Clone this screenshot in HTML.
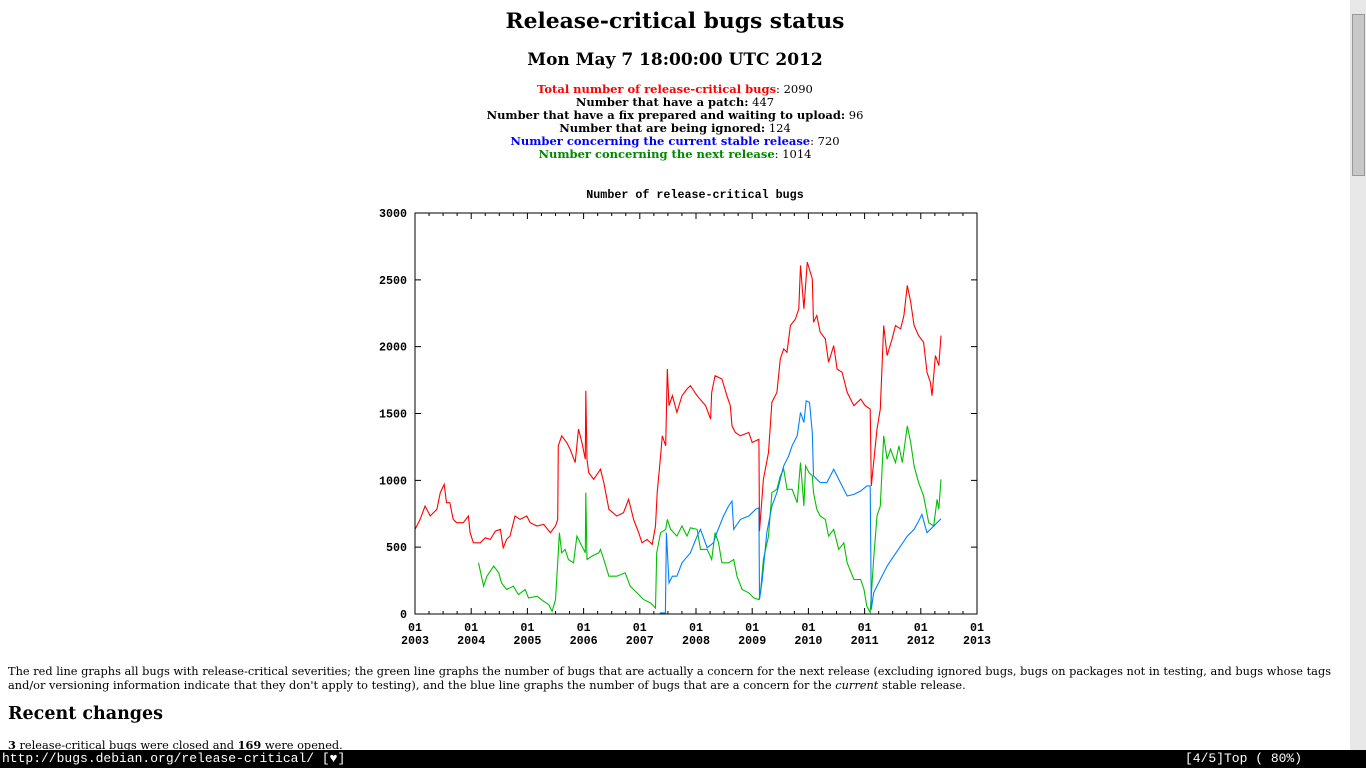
<!DOCTYPE html>
<html><head><meta charset="utf-8"><style>
body{margin:0;width:1366px;height:768px;overflow:hidden;background:#fff;font-family:"DejaVu Serif",serif;color:#000;position:relative}
.c{position:absolute;left:0;width:1350px;text-align:center}
h1{position:absolute;left:0;width:1350px;text-align:center;top:8px;margin:0;font-size:21.8px;line-height:28px}
h2{position:absolute;left:0;width:1350px;text-align:center;top:49px;margin:0;font-size:17px;line-height:22px}
.st{font-size:11.5px;line-height:13px;top:83px}
.p{position:absolute;left:8px;top:664px;width:1340px;font-size:11.35px;line-height:14px}
.h3{position:absolute;left:8px;top:704px;font-size:17.5px;font-weight:bold}
.p2{position:absolute;left:8px;top:738px;font-size:11.35px}
.bar{position:absolute;left:0;top:750px;width:1366px;height:18px;background:#000;color:#fff;font-family:"Liberation Mono",monospace;font-size:13px;line-height:18px}
.sb{position:absolute;left:1350px;top:0;width:16px;height:750px;background:#e8e8e8}
</style></head><body>
<h1>Release-critical bugs status</h1>
<h2>Mon May 7 18:00:00 UTC 2012</h2>
<div class="c st">
<div><b style="color:#f00">Total number of release-critical bugs</b>: 2090</div>
<div><b>Number that have a patch:</b> 447</div>
<div><b>Number that have a fix prepared and waiting to upload:</b> 96</div>
<div><b>Number that are being ignored:</b> 124</div>
<div><b style="color:#00f">Number concerning the current stable release</b>: 720</div>
<div><b style="color:#080">Number concerning the next release</b>: 1014</div>
</div>
<svg id="chart" style="position:absolute;left:0;top:0" width="1350" height="660" font-family="Liberation Mono, monospace" font-weight="bold" font-size="11.7"></svg>
<div class="p">The red line graphs all bugs with release-critical severities; the green line graphs the number of bugs that are actually a concern for the next release (excluding ignored bugs, bugs on packages not in testing, and bugs whose tags and/or versioning information indicate that they don't apply to testing), and the blue line graphs the number of bugs that are a concern for the <i>current</i> stable release.</div>
<div class="h3">Recent changes</div>
<div class="p2"><b>3</b> release-critical bugs were closed and <b>169</b> were opened.</div>
<div class="sb"><div style="position:absolute;left:2px;top:14px;width:11px;height:160px;background:#c8c8c8;border:1px solid #999"></div></div>
<div class="bar"><span style="position:absolute;left:2px">http://bugs.debian.org/release-critical/ [♥]</span><span style="position:absolute;left:1185px">[4/5]Top ( 80%)</span></div>
<script>
const redX=[2003.00,2003.09,2003.18,2003.27,2003.39,2003.45,2003.52,2003.56,2003.62,2003.68,2003.74,2003.86,2003.95,2003.98,2004.04,2004.16,2004.25,2004.34,2004.43,2004.52,2004.57,2004.63,2004.69,2004.78,2004.87,2004.99,2005.05,2005.17,2005.29,2005.41,2005.50,2005.54,2005.55,2005.61,2005.70,2005.76,2005.85,2005.91,2005.97,2006.03,2006.04,2006.06,2006.09,2006.18,2006.30,2006.36,2006.45,2006.59,2006.71,2006.80,2006.89,2006.98,2007.04,2007.13,2007.22,2007.28,2007.31,2007.37,2007.40,2007.46,2007.49,2007.52,2007.58,2007.66,2007.75,2007.84,2007.90,2008.02,2008.17,2008.26,2008.28,2008.34,2008.46,2008.55,2008.61,2008.64,2008.70,2008.79,2008.94,2009.00,2009.12,2009.13,2009.20,2009.29,2009.35,2009.44,2009.50,2009.56,2009.62,2009.68,2009.77,2009.83,2009.86,2009.92,2009.98,2010.07,2010.09,2010.15,2010.21,2010.30,2010.36,2010.45,2010.51,2010.60,2010.69,2010.81,2010.93,2011.01,2011.10,2011.12,2011.22,2011.28,2011.34,2011.40,2011.49,2011.55,2011.64,2011.70,2011.76,2011.82,2011.88,2011.96,2012.05,2012.11,2012.17,2012.20,2012.26,2012.32,2012.36];
const redY=[633,708,808,733,783,908,970,833,833,708,683,683,733,608,533,533,570,558,620,633,495,558,583,733,708,733,683,658,670,608,658,708,1258,1333,1283,1233,1133,1383,1283,1158,1670,1158,1058,1008,1083,983,783,733,758,858,708,608,533,558,520,658,908,1183,1333,1258,1833,1558,1633,1508,1633,1683,1708,1633,1558,1458,1658,1783,1758,1633,1558,1408,1358,1333,1358,1283,1308,620,1008,1208,1583,1658,1908,1983,1958,2158,2208,2283,2608,2283,2633,2508,2183,2233,2108,2058,1883,2008,1833,1808,1658,1558,1608,1558,1533,958,1383,1533,2158,1933,2058,2158,2133,2233,2458,2333,2158,2083,2033,1808,1733,1633,1933,1858,2083];
const greenX=[2004.13,2004.22,2004.28,2004.40,2004.49,2004.54,2004.63,2004.75,2004.84,2004.96,2005.02,2005.17,2005.29,2005.38,2005.44,2005.50,2005.54,2005.57,2005.61,2005.67,2005.73,2005.82,2005.88,2005.97,2006.03,2006.04,2006.06,2006.15,2006.27,2006.30,2006.36,2006.45,2006.59,2006.74,2006.83,2006.95,2007.07,2007.19,2007.28,2007.30,2007.37,2007.46,2007.49,2007.55,2007.66,2007.75,2007.84,2007.90,2008.02,2008.08,2008.20,2008.28,2008.34,2008.40,2008.46,2008.58,2008.67,2008.73,2008.82,2008.94,2009.03,2009.12,2009.15,2009.20,2009.29,2009.35,2009.44,2009.50,2009.56,2009.62,2009.71,2009.80,2009.86,2009.92,2009.95,2010.01,2010.07,2010.09,2010.15,2010.21,2010.30,2010.36,2010.45,2010.54,2010.63,2010.69,2010.81,2010.93,2010.99,2011.04,2011.10,2011.16,2011.22,2011.28,2011.34,2011.40,2011.46,2011.55,2011.61,2011.67,2011.76,2011.82,2011.88,2011.96,2012.05,2012.14,2012.23,2012.29,2012.32,2012.36];
const greenY=[383,208,283,358,308,233,183,208,145,183,120,133,95,70,20,108,383,608,458,483,408,383,583,508,458,908,408,433,458,483,408,283,283,308,208,158,108,83,45,458,608,633,708,633,583,658,583,645,633,483,483,408,608,533,383,383,408,283,183,158,120,108,170,408,583,908,933,1033,1083,933,933,833,1133,808,1108,1058,1033,908,783,733,708,583,633,483,533,383,258,258,183,58,12,408,733,808,1333,1158,1233,1133,1258,1133,1408,1283,1108,983,883,683,658,858,783,1008];
const blueX=[2007.355,2007.456,2007.474,2007.52,2007.58,2007.66,2007.75,2007.90,2008.02,2008.08,2008.20,2008.31,2008.37,2008.49,2008.58,2008.64,2008.67,2008.79,2008.94,2009.06,2009.12,2009.13,2009.18,2009.26,2009.35,2009.44,2009.50,2009.56,2009.65,2009.71,2009.80,2009.86,2009.92,2009.96,2010.02,2010.07,2010.09,2010.21,2010.33,2010.45,2010.57,2010.69,2010.81,2010.93,2011.04,2011.10,2011.12,2011.16,2011.28,2011.40,2011.52,2011.64,2011.76,2011.88,2011.96,2012.02,2012.11,2012.20,2012.36];
const blueY=[8,8,608,233,283,283,383,458,583,633,495,533,608,733,808,845,633,708,733,783,795,108,258,608,808,908,1008,1108,1183,1258,1333,1508,1433,1595,1583,1358,1033,983,983,1083,983,883,895,920,958,958,33,158,258,358,433,508,583,633,695,745,608,645,713];
const yTicks=[0,500,1000,1500,2000,2500,3000];
const xYears=[2003,2004,2005,2006,2007,2008,2009,2010,2011,2012,2013];

const L=415,R=977,T=213,B=614;
const sx=y=>L+(y-2003)/10*(R-L);
const sy=v=>B-v/3000*(B-T);
const svg=document.getElementById('chart');
const NS='http://www.w3.org/2000/svg';
function mk(tag,at){const e=document.createElementNS(NS,tag);for(const k in at)e.setAttribute(k,at[k]);svg.appendChild(e);return e;}
let t=mk('text',{x:(L+R)/2-1,y:198,'text-anchor':'middle'});t.textContent='Number of release-critical bugs';


yTicks.forEach(v=>{
  const y=sy(v);
  const g=mk('path',{d:`M${L} ${y}h6M${R} ${y}h-6`,stroke:'#000','stroke-width':1});
  
  
  const lb=mk('text',{x:L-8,y:y+4,'text-anchor':'end'});lb.textContent=v;
  
  
});
xYears.forEach((yr,i)=>{
  const x=sx(yr);
  const g=mk('path',{d:`M${x} ${B}v-6M${x} ${T}v6`,stroke:'#000'});
  
  
  if(i<xYears.length-1){for(let q=1;q<4;q++){const xm=sx(yr+q/4);const m=mk('path',{d:`M${xm} ${B}v-3M${xm} ${T}v3`,stroke:'#000'});
    
    }}
  const a=mk('text',{x:x,y:B+17,'text-anchor':'middle'});a.textContent='01';
  
  
  const b=mk('text',{x:x,y:B+30,'text-anchor':'middle'});b.textContent=yr;
  
  
});
function line(xs,ys,col,name){
  const pts=xs.map((x,i)=>sx(x).toFixed(1)+','+sy(ys[i]).toFixed(1)).join(' ');
  const p=mk('polyline',{points:pts,fill:'none',stroke:col,'stroke-width':1.1});
  
  
}
line(greenX,greenY,'#00c000','series-next-release');
line(blueX,blueY,'#0080ff','series-current-stable');
line(redX,redY,'#ff0000','series-total-rc');
const fr=mk('rect',{x:L,y:T,width:R-L,height:B-T,fill:'none',stroke:'#000'});


</script>
</body></html>
